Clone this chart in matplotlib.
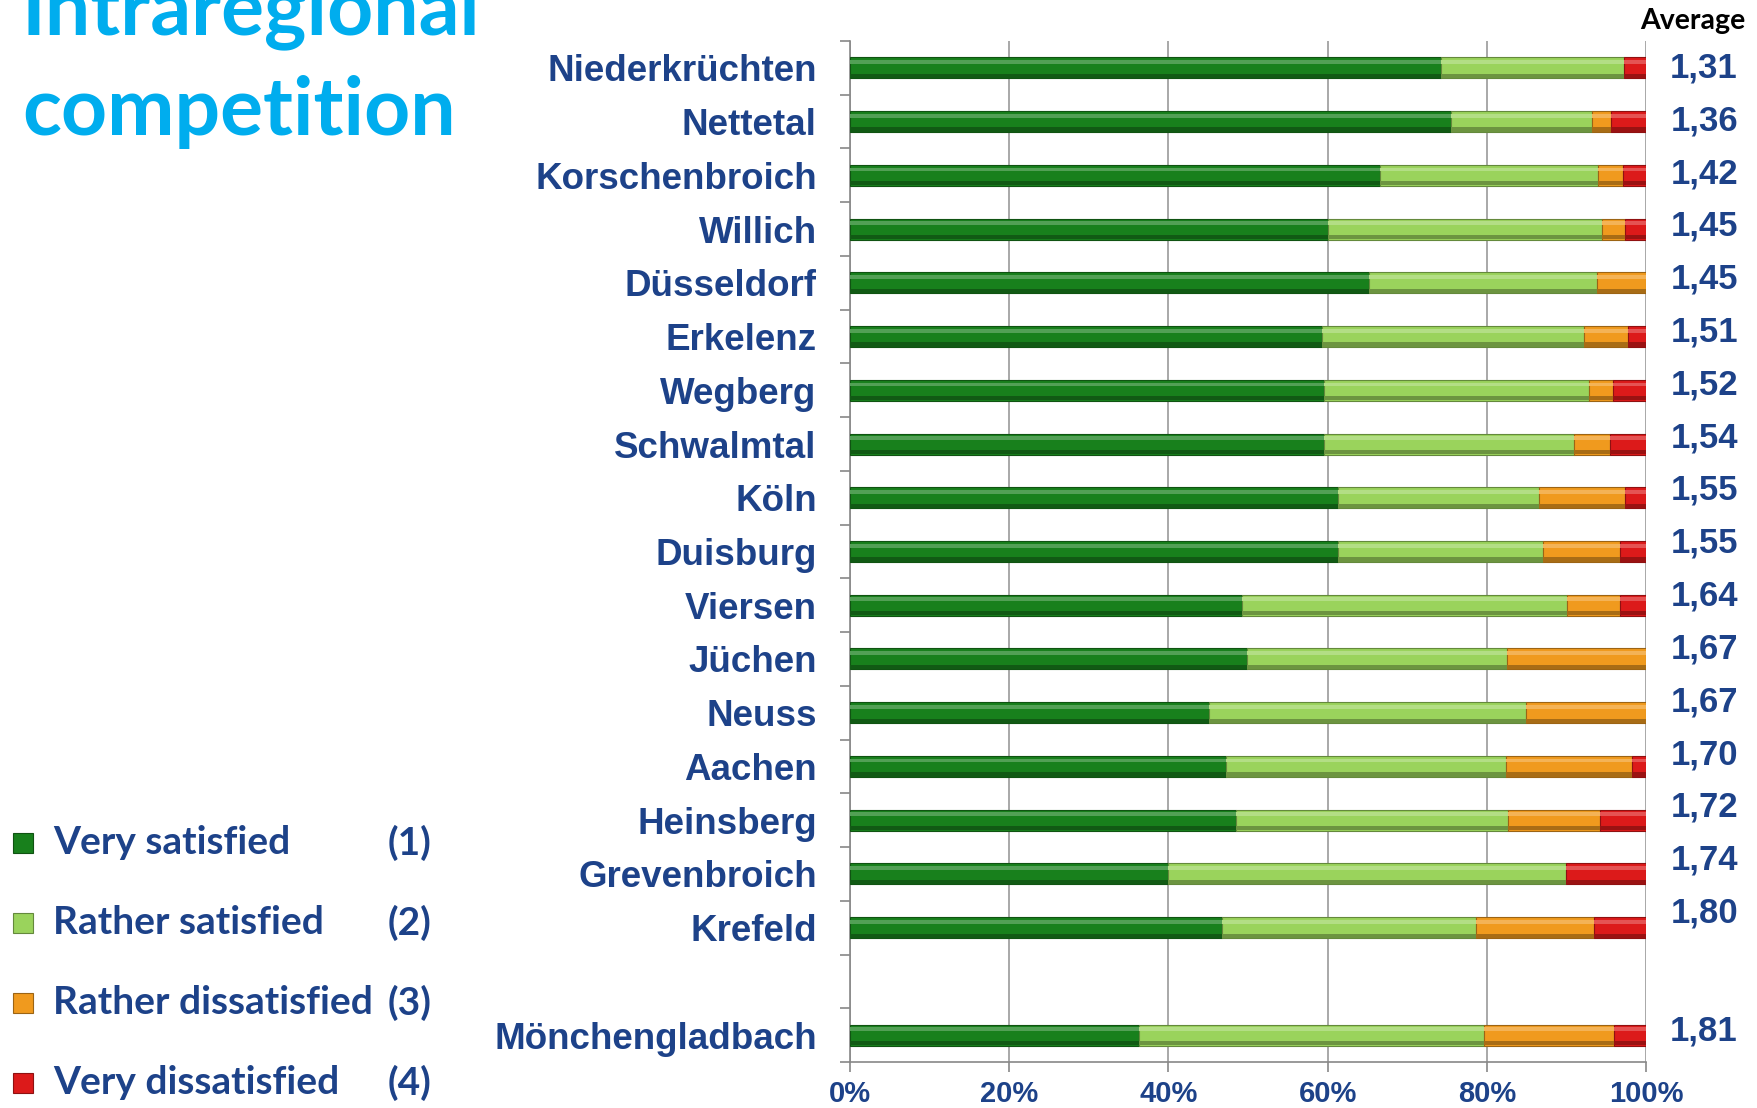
import matplotlib
matplotlib.use("Agg")
from matplotlib import pyplot as plt
from matplotlib import colors as mcolors
from matplotlib.patches import Rectangle
import matplotlib.transforms as mtransforms

cities = ['Niederkrüchten', 'Nettetal', 'Korschenbroich', 'Willich', 'Düsseldorf',
          'Erkelenz', 'Wegberg', 'Schwalmtal', 'Köln', 'Duisburg', 'Viersen',
          'Jüchen', 'Neuss', 'Aachen', 'Heinsberg', 'Grevenbroich', 'Krefeld',
          'Mönchengladbach']
very_sat = [74.3, 75.5, 66.6, 60.1, 65.2, 59.3, 59.6, 59.6, 61.3, 61.3,
            49.2, 49.9, 45.1, 47.2, 48.5, 39.9, 46.7, 36.3]
rather_sat = [22.9, 17.7, 27.4, 34.4, 28.6, 32.9, 33.3, 31.4, 25.3, 25.7,
              40.9, 32.6, 39.8, 35.2, 34.2, 50.0, 32.0, 43.3]
rather_dis = [0.0, 2.4, 3.1, 2.8, 6.2, 5.6, 3.0, 4.5, 10.7, 9.7,
              6.6, 17.5, 15.1, 15.8, 11.5, 0.0, 14.8, 16.4]
very_dis = [2.8, 4.4, 2.9, 2.7, 0.0, 2.2, 4.1, 4.5, 2.7, 3.3,
            3.3, 0.0, 0.0, 1.8, 5.8, 10.1, 6.5, 4.0]
averages = ['1,31', '1,36', '1,42', '1,45', '1,45', '1,51', '1,52', '1,54', '1,55',
            '1,55', '1,64', '1,67', '1,67', '1,70', '1,72', '1,74', '1,80', '1,81']
legend_labels = ['Very satisfied', 'Rather satisfied', 'Rather dissatisfied', 'Very dissatisfied']
legend_codes = ['(1)', '(2)', '(3)', '(4)']
xticks = [0, 20, 40, 60, 80, 100]

seg_colors = ['#18801c', '#9ad35c', '#f09a1e', '#dc1a1a']
blue = '#1d4289'
cyan = '#00adee'

W, H = 1758, 1108
fig = plt.figure(figsize=(W / 100, H / 100), dpi=100)
ax = fig.add_axes([850 / W, 1 - 1062 / H, 796 / W, 1021 / H])

# blank slot between Krefeld and Mönchengladbach
pos = list(range(len(cities) - 1)) + [len(cities)]
bar_h = 0.39
# the average column in the slide drifts slightly upward relative to the bars
avg_pos = [p * 0.983 for p in pos[:-1]] + [pos[-1] - 0.08]


def shade(c, f):
    r, g, b = mcolors.to_rgb(c)
    if f > 0:
        return (r + (1 - r) * f, g + (1 - g) * f, b + (1 - b) * f)
    return (r * (1 + f), g * (1 + f), b * (1 + f))


trans = mtransforms.blended_transform_factory(ax.transAxes, ax.transData)
series = [very_sat, rather_sat, rather_dis, very_dis]
for i, y in enumerate(pos):
    left = 0
    for s, col in zip(series, seg_colors):
        w = s[i]
        if w <= 0:
            continue
        # bevelled look: base, light top band, dark bottom band
        ax.barh(y, w, left=left, height=bar_h, color=col,
                edgecolor=shade(col, -0.35), linewidth=0.8, zorder=3)
        ax.barh(y - bar_h * 0.28, w, left=left, height=bar_h * 0.18,
                color=shade(col, 0.25), linewidth=0, zorder=4)
        ax.barh(y + bar_h * 0.38, w, left=left, height=bar_h * 0.2,
                color=shade(col, -0.3), linewidth=0, zorder=4)
        left += w
    ax.text(1.073, avg_pos[i], averages[i], transform=trans,
            ha='center', va='center', fontsize=25, fontweight='bold',
            family='Liberation Sans', color=blue)

ax.set_xlim(0, 100)
ax.set_ylim(max(pos) + 0.5, -0.5)
ax.set_xticks(xticks)
ax.set_xticklabels([f'{t}%' for t in xticks], fontsize=21, fontweight='bold',
                   family='Liberation Sans', color=blue)
ax.set_yticks(pos)
ax.set_yticklabels(cities, fontsize=26.5, fontweight='bold',
                   family='Liberation Sans', color=blue)
ax.set_yticks([p - 0.5 for p in range(max(pos) + 2)], minor=True)
ax.tick_params(axis='y', which='major', length=0, pad=24)
ax.tick_params(axis='y', which='minor', length=7, color='#888888', width=1.2)
ax.tick_params(axis='x', length=7, color='#888888', width=1.2, pad=6)
ax.grid(axis='x', color='#999999', linewidth=1.2, zorder=0)
ax.set_axisbelow(True)
for side in ['top', 'right']:
    ax.spines[side].set_visible(False)
for side in ['left', 'bottom']:
    ax.spines[side].set_color('#888888')
    ax.spines[side].set_linewidth(1.2)

fig.text(1693 / W, 1 - 21 / H, 'Average', ha='center', va='center',
         fontsize=20.5, fontweight='bold', family='Lato', color='black')

# title, partly cut off at the top as in the original slide
fig.text(22 / W, 1 - 34 / H, 'Intraregional', ha='left', va='baseline',
         fontsize=58, fontweight='bold', family='Lato', color=cyan)
fig.text(22 / W, 1 - 135 / H, 'competition', ha='left', va='baseline',
         fontsize=58, fontweight='bold', family='Lato', color=cyan)

legend_y = [843, 923, 1003, 1083]
for lab, code, col, ly in zip(legend_labels, legend_codes, seg_colors, legend_y):
    fig.add_artist(Rectangle((13 / W, 1 - (ly + 10) / H), 20 / W, 20 / H,
                             transform=fig.transFigure, facecolor=col,
                             edgecolor=shade(col, -0.35), linewidth=0.8))
    fig.text(53 / W, 1 - ly / H, lab, ha='left', va='center',
             fontsize=28, fontweight='bold', family='Lato', color=blue)
    fig.text(388 / W, 1 - ly / H, code, ha='left', va='center',
             fontsize=28, fontweight='bold', family='Lato', color=blue)

fig.savefig('out.png', dpi=100)
